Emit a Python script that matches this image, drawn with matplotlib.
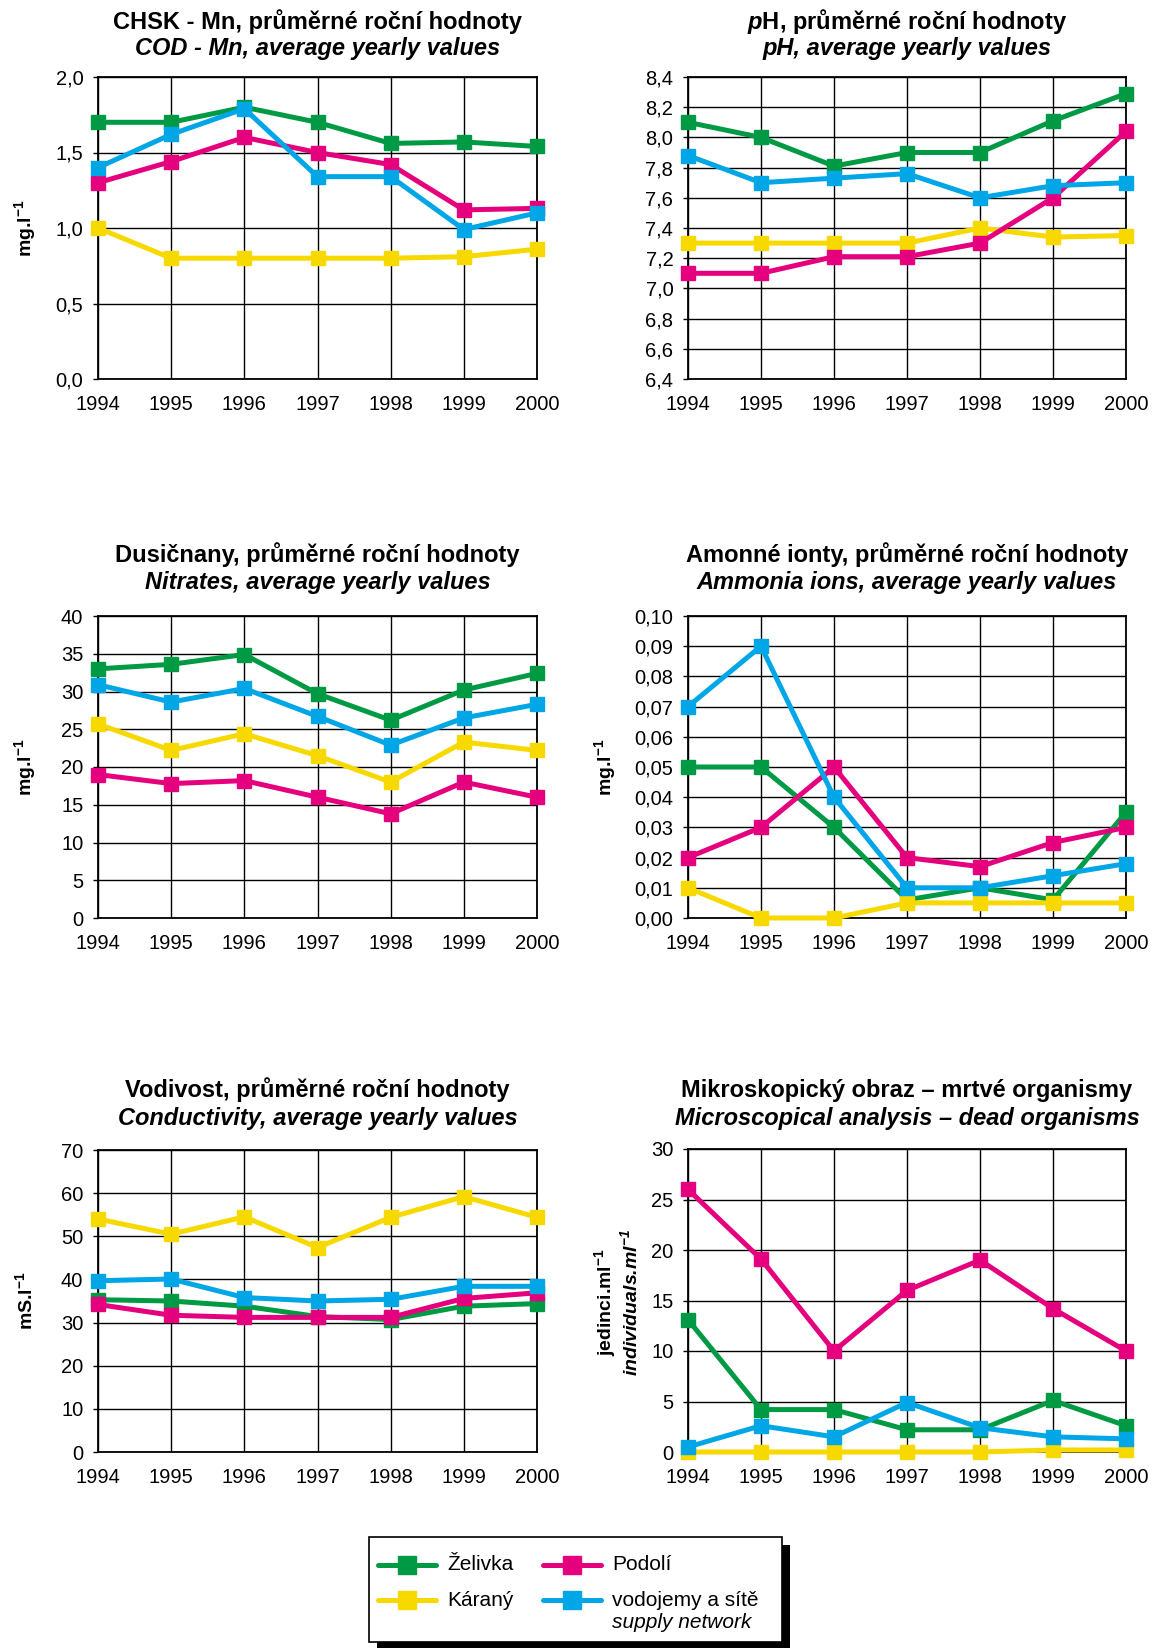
"""
Jakost vody 1994-2000: six small line charts with a shared legend underneath.
"""
# %% Load required modules
import matplotlib
matplotlib.use("Agg")
import matplotlib.pyplot as plt
from matplotlib.patches import Rectangle
from matplotlib.ticker import FixedLocator, FuncFormatter

#############################
#            DATA           #
#############################

years = [1994, 1995, 1996, 1997, 1998, 1999, 2000]

# CHSK - Mn (mg/l)
cod_zelivka = [1.70, 1.70, 1.80, 1.70, 1.56, 1.57, 1.54]
cod_karany = [1.00, 0.80, 0.80, 0.80, 0.80, 0.81, 0.86]
cod_podoli = [1.30, 1.44, 1.60, 1.50, 1.42, 1.12, 1.13]
cod_network = [1.40, 1.62, 1.79, 1.34, 1.34, 0.99, 1.10]

# pH
ph_zelivka = [8.10, 8.00, 7.81, 7.90, 7.90, 8.11, 8.29]
ph_karany = [7.30, 7.30, 7.30, 7.30, 7.40, 7.34, 7.35]
ph_podoli = [7.10, 7.10, 7.21, 7.21, 7.30, 7.60, 8.04]
ph_network = [7.88, 7.70, 7.73, 7.76, 7.60, 7.68, 7.70]

# Dusičnany (mg/l)
no3_zelivka = [33.0, 33.6, 34.9, 29.7, 26.2, 30.2, 32.4]
no3_karany = [25.7, 22.2, 24.4, 21.5, 18.0, 23.3, 22.2]
no3_podoli = [19.0, 17.8, 18.2, 16.0, 13.8, 18.0, 16.0]
no3_network = [30.9, 28.6, 30.4, 26.7, 22.9, 26.5, 28.3]

# Amonné ionty (mg/l)
nh4_zelivka = [0.050, 0.050, 0.030, 0.006, 0.010, 0.006, 0.035]
nh4_karany = [0.010, 0.000, 0.000, 0.005, 0.005, 0.005, 0.005]
nh4_podoli = [0.020, 0.030, 0.050, 0.020, 0.017, 0.025, 0.030]
nh4_network = [0.070, 0.090, 0.040, 0.010, 0.010, 0.014, 0.018]

# Vodivost (mS/m)
cond_zelivka = [35.3, 35.0, 33.8, 31.4, 30.7, 33.8, 34.4]
cond_karany = [54.0, 50.5, 54.5, 47.4, 54.4, 59.2, 54.4]
cond_podoli = [34.2, 31.7, 31.2, 31.2, 31.2, 35.6, 36.9]
cond_network = [39.7, 40.1, 35.8, 35.0, 35.4, 38.4, 38.4]

# Mrtvé organismy (jedinci/ml)
dead_zelivka = [13.1, 4.2, 4.2, 2.2, 2.2, 5.1, 2.6]
dead_karany = [0.0, 0.0, 0.0, 0.0, 0.0, 0.2, 0.2]
dead_podoli = [26.0, 19.1, 10.0, 16.0, 19.0, 14.2, 10.0]
dead_network = [0.5, 2.6, 1.5, 4.9, 2.4, 1.5, 1.3]

series_names = ["Želivka", "Káraný", "Podolí", "vodojemy a sítě"]
series_colors = ["#009a44", "#f7d900", "#e5007e", "#00a6e6"]

#############################
#           LAYOUT          #
#############################

W, H = 1157, 1648
LINE_W = 3.6
MARKER = 10.5
TICK_FS = 14.5
TITLE_FS = 17
LABEL_FS = 14

plt.rcParams['font.family'] = ['Liberation Sans', 'DejaVu Sans']
plt.rcParams['mathtext.fontset'] = 'custom'
plt.rcParams['mathtext.rm'] = 'Liberation Sans'
plt.rcParams['mathtext.it'] = 'Liberation Sans:italic'
plt.rcParams['mathtext.bf'] = 'Liberation Sans:bold'
plt.rcParams['mathtext.bfit'] = 'Liberation Sans:italic:bold'


def fx(x):
    return x / W


def fy(y):
    return 1 - y / H


def pixel_rect(left, right, top, bottom):
    return [fx(left), fy(bottom), (right - left) / W, (bottom - top) / H]


# each panel: axes box in pixels, titles, y range, tick step, decimals, y label
panels = [
    dict(box=(98, 537, 77, 379), title_y=(22, 48),
         title=("CHSK - Mn, průměrné roční hodnoty", "COD - Mn, average yearly values"),
         data=(cod_zelivka, cod_karany, cod_podoli, cod_network),
         ylim=(0, 2.0), step=0.5, dec=1, ylabel=r"mg.l$^{\mathbf{-1}}$", ylabel_x=25),
    dict(box=(688, 1126, 77, 379), title_y=(22, 48),
         title=(r"$\mathbfit{p}$H, průměrné roční hodnoty", "pH, average yearly values"),
         data=(ph_zelivka, ph_karany, ph_podoli, ph_network),
         ylim=(6.4, 8.4), step=0.2, dec=1, ylabel=None),
    dict(box=(98, 537, 616, 918), title_y=(555, 582),
         title=("Dusičnany, průměrné roční hodnoty", "Nitrates, average yearly values"),
         data=(no3_zelivka, no3_karany, no3_podoli, no3_network),
         ylim=(0, 40), step=5, dec=0, ylabel=r"mg.l$^{\mathbf{-1}}$", ylabel_x=25),
    dict(box=(688, 1126, 616, 918), title_y=(555, 582),
         title=("Amonné ionty, průměrné roční hodnoty", "Ammonia ions, average yearly values"),
         data=(nh4_zelivka, nh4_karany, nh4_podoli, nh4_network),
         ylim=(0, 0.10), step=0.01, dec=2, ylabel=r"mg.l$^{\mathbf{-1}}$", ylabel_x=605),
    dict(box=(98, 537, 1150, 1452), title_y=(1090, 1117),
         title=("Vodivost, průměrné roční hodnoty", "Conductivity, average yearly values"),
         data=(cond_zelivka, cond_karany, cond_podoli, cond_network),
         ylim=(0, 70), step=10, dec=0, ylabel=r"mS.l$^{\mathbf{-1}}$", ylabel_x=25),
    dict(box=(688, 1126, 1149, 1452), title_y=(1090, 1117),
         title=("Mikroskopický obraz – mrtvé organismy", "Microscopical analysis – dead organisms"),
         data=(dead_zelivka, dead_karany, dead_podoli, dead_network),
         ylim=(0, 30), step=5, dec=0, ylabel=None),
]

#############################
#          PLOTTING         #
#############################

fig = plt.figure(figsize=(W / 100, H / 100), dpi=100)

for p in panels:
    left, right, top, bottom = p["box"]
    ax = fig.add_axes(pixel_rect(left, right, top, bottom))

    # green, yellow, pink, blue: blue ends up on top
    for values, color in zip(p["data"], series_colors):
        ax.plot(years, values, color=color, lw=LINE_W, marker="s", ms=MARKER,
                mec=color, mfc=color, clip_on=False, zorder=3)

    lo, hi = p["ylim"]
    n = int(round((hi - lo) / p["step"]))
    ticks = [lo + i * p["step"] for i in range(n + 1)]
    ax.set_ylim(lo, hi)
    ax.set_xlim(years[0], years[-1])
    ax.yaxis.set_major_locator(FixedLocator(ticks))
    ax.xaxis.set_major_locator(FixedLocator(years))
    dec = p["dec"]
    ax.yaxis.set_major_formatter(FuncFormatter(lambda v, pos, d=dec: f"{v:.{d}f}".replace(".", ",")))
    ax.grid(True, color="black", lw=1.0)
    ax.set_axisbelow(True)
    for s in ax.spines.values():
        s.set_linewidth(1.3)
        s.set_color("black")
    ax.tick_params(axis="y", length=3.6, width=1.0, pad=7, labelsize=TICK_FS)
    ax.tick_params(axis="x", length=0, pad=11.5, labelsize=TICK_FS)

    cx = (left + right) / 2
    fig.text(fx(cx), fy(p["title_y"][0]), p["title"][0], ha="center", va="center",
             fontsize=TITLE_FS, fontweight="bold")
    fig.text(fx(cx), fy(p["title_y"][1] + 1), p["title"][1], ha="center", va="center",
             fontsize=TITLE_FS, fontweight="bold", fontstyle="italic")

    if p["ylabel"]:
        fig.text(fx(p["ylabel_x"]), fy((top + bottom) / 2), p["ylabel"], rotation=90,
                 ha="center", va="center", fontsize=LABEL_FS, fontweight="bold")

# two-line unit label of the organisms panel
fig.text(fx(605), fy(1302), r"jedinci.ml$^{\mathbf{-1}}$", rotation=90,
         ha="center", va="center", fontsize=LABEL_FS, fontweight="bold")
fig.text(fx(630), fy(1302), r"individuals.ml$^{\mathbfit{-1}}$", rotation=90,
         ha="center", va="center", fontsize=LABEL_FS, fontweight="bold", fontstyle="italic")

# %% Legend box with drop shadow, drawn in pixel coordinates
lg = fig.add_axes([0, 0, 1, 1])
lg.set_xlim(0, W)
lg.set_ylim(H, 0)
lg.axis("off")
lg.patch.set_alpha(0)

lg.add_patch(Rectangle((377, 1545), 413, 105, facecolor="black", edgecolor="none"))
lg.add_patch(Rectangle((369, 1537), 413, 105, facecolor="white", edgecolor="black", lw=1.2))

legend_slots = [(378, 1565), (378, 1600), (543, 1565), (543, 1600)]
for (x0, y0), name, color in zip(legend_slots, series_names, series_colors):
    lg.plot([x0, x0 + 58], [y0, y0], color=color, lw=LINE_W, solid_capstyle="round")
    lg.plot([x0 + 29], [y0], marker="s", ms=13, color=color)
    lg.text(x0 + 69, y0, name, ha="left", va="center", fontsize=15)
lg.text(612, 1623, "supply network", ha="left", va="center", fontsize=15, fontstyle="italic")

fig.savefig("out.png", dpi=100)
